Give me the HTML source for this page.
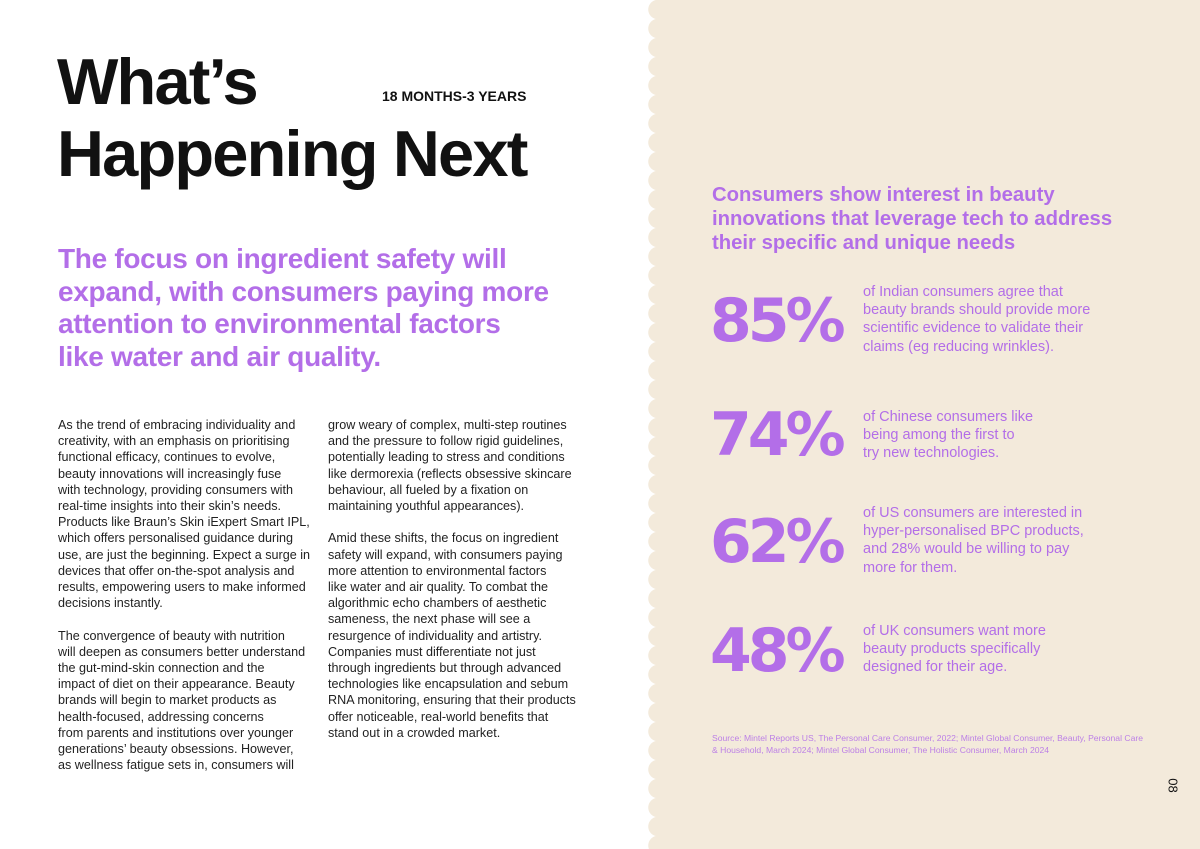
<!DOCTYPE html>
<html><head><meta charset="utf-8"><style>
*{margin:0;padding:0;box-sizing:border-box}
body{width:1200px;height:849px;position:relative;background:#fff;font-family:"Liberation Sans",sans-serif;overflow:hidden}
.a{position:absolute;white-space:nowrap}
.beige{position:absolute;left:658px;top:0;width:542px;height:849px;background:#f3eadb}
.scal{position:absolute;left:646px;top:0;width:14px;height:849px;background:radial-gradient(circle at 12px 9.5px,#f3eadb 9.5px,transparent 10px);background-size:14px 19px}
.t{font-weight:bold;font-size:65px;letter-spacing:-1.8px;color:#111;line-height:68px}
.h{color:#b36ee8;font-weight:bold;font-size:28px;line-height:32.5px;letter-spacing:-0.3px}
.b{font-size:12.6px;line-height:16.2px;color:#222}
.p{color:#b36ee8}
.n{font-family:"DejaVu Sans",sans-serif;font-weight:bold;font-size:60px;color:#b36ee8;letter-spacing:-4px}
.s{font-size:14.5px;line-height:18.2px;color:#b36ee8}
</style></head><body>
<div class="beige"></div><div class="scal"></div>
<div class="a t" style="left:57px;top:48px">What’s</div>
<div class="a t" style="left:57px;top:120px">Happening Next</div>
<div class="a" style="left:382px;top:88px;font-weight:bold;font-size:14px;color:#111">18 MONTHS-3 YEARS</div>
<div class="a h" style="left:58px;top:243px">The focus on ingredient safety will<br>expand, with consumers paying more<br>attention to environmental factors<br>like water and air quality.</div>
<div class="a b" style="left:58px;top:417px">As the trend of embracing individuality and<br>creativity, with an emphasis on prioritising<br>functional efficacy, continues to evolve,<br>beauty innovations will increasingly fuse<br>with technology, providing consumers with<br>real-time insights into their skin’s needs.<br>Products like Braun’s Skin iExpert Smart IPL,<br>which offers personalised guidance during<br>use, are just the beginning. Expect a surge in<br>devices that offer on-the-spot analysis and<br>results, empowering users to make informed<br>decisions instantly.<br><br>The convergence of beauty with nutrition<br>will deepen as consumers better understand<br>the gut-mind-skin connection and the<br>impact of diet on their appearance. Beauty<br>brands will begin to market products as<br>health-focused, addressing concerns<br>from parents and institutions over younger<br>generations’ beauty obsessions. However,<br>as wellness fatigue sets in, consumers will</div>
<div class="a b" style="left:328px;top:417px">grow weary of complex, multi-step routines<br>and the pressure to follow rigid guidelines,<br>potentially leading to stress and conditions<br>like dermorexia (reflects obsessive skincare<br>behaviour, all fueled by a fixation on<br>maintaining youthful appearances).<br><br>Amid these shifts, the focus on ingredient<br>safety will expand, with consumers paying<br>more attention to environmental factors<br>like water and air quality. To combat the<br>algorithmic echo chambers of aesthetic<br>sameness, the next phase will see a<br>resurgence of individuality and artistry.<br>Companies must differentiate not just<br>through ingredients but through advanced<br>technologies like encapsulation and sebum<br>RNA monitoring, ensuring that their products<br>offer noticeable, real-world benefits that<br>stand out in a crowded market.</div>
<div class="a p" style="left:712px;top:183px;font-size:20.3px;line-height:24px;font-weight:bold">Consumers show interest in beauty<br>innovations that leverage tech to address<br>their specific and unique needs</div>
<div class="a n" style="left:710px;top:286px">85%</div>
<div class="a s" style="left:863px;top:283px">of Indian consumers agree that<br>beauty brands should provide more<br>scientific evidence to validate their<br>claims (eg reducing wrinkles).</div>
<div class="a n" style="left:710px;top:400px">74%</div>
<div class="a s" style="left:863px;top:408px">of Chinese consumers like<br>being among the first to<br>try new technologies.</div>
<div class="a n" style="left:710px;top:507px">62%</div>
<div class="a s" style="left:863px;top:504px">of US consumers are interested in<br>hyper-personalised BPC products,<br>and 28% would be willing to pay<br>more for them.</div>
<div class="a n" style="left:710px;top:616px">48%</div>
<div class="a s" style="left:863px;top:622px">of UK consumers want more<br>beauty products specifically<br>designed for their age.</div>
<div class="a p" style="left:712px;top:733px;font-size:8.6px;line-height:11.5px;opacity:.85">Source: Mintel Reports US, The Personal Care Consumer, 2022; Mintel Global Consumer, Beauty, Personal Care<br>&amp; Household, March 2024; Mintel Global Consumer, The Holistic Consumer, March 2024</div>
<div class="a" style="left:1166px;top:778px;font-size:13px;color:#111;transform:rotate(90deg)">08</div>
</body></html>
